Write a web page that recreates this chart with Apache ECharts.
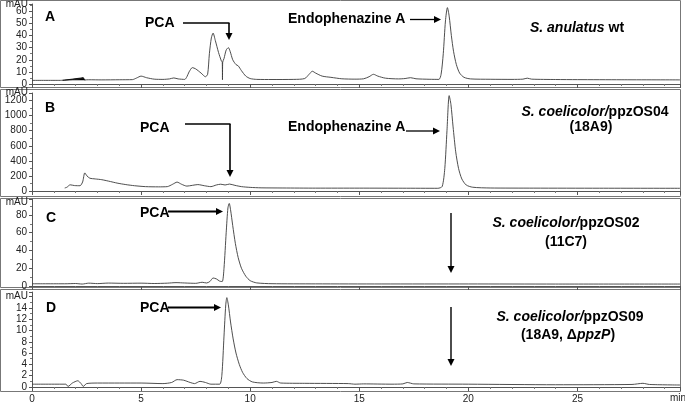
<!DOCTYPE html>
<html><head><meta charset="utf-8">
<script src="https://cdn.jsdelivr.net/npm/echarts@6/dist/echarts.min.js"></script>
<style>html,body{margin:0;padding:0;background:#fff}#c{width:685px;height:405px}</style>
</head><body><div id="c"></div>
<script>
// retention time (min), absorbance (mAU)
const traceA = [[0,3],[1.3,3],[1.4,3.1],[1.8,3.6],[2.2,4.4],[2.35,5],[2.42,3.4],[2.6,3.5],[3.2,3.4],[4.0,3.5],[4.6,3.6],[4.8,5],[5.0,6.5],[5.25,5.2],[5.6,4],[6.0,3.8],[6.3,4.2],[6.5,5],[6.7,4.2],[7.0,3.8],[7.1,6],[7.2,10],[7.35,13.5],[7.5,12.5],[7.75,9],[7.95,6],[8.05,8],[8.13,25],[8.22,38],[8.3,42],[8.4,36],[8.55,26],[8.68,19],[8.72,18],[8.73,3.5],[8.74,18],[8.8,21],[8.9,28],[9.0,30],[9.08,27],[9.2,20],[9.35,16],[9.45,15],[9.6,11],[9.8,6.5],[10.0,4.5],[10.3,3.8],[11.0,3.7],[12.0,3.8],[12.5,4.5],[12.7,8],[12.85,10.5],[13.0,9],[13.3,6.5],[13.7,5.5],[14.2,4.3],[14.8,4],[15.2,4.3],[15.45,6],[15.65,8],[15.85,6.5],[16.2,4.8],[16.8,4.2],[17.1,4.5],[17.35,5.2],[17.6,4.3],[18.2,3.9],[18.65,3.8],[18.75,8],[18.85,25],[18.95,52],[19.04,63],[19.12,56],[19.22,40],[19.32,27],[19.45,16],[19.6,9],[19.8,5.5],[20.1,4.2],[21,3.9],[22,3.8],[22.5,4],[22.7,4.8],[22.9,4],[24,3.7],[25,3.6],[27,3.5],[29.7,3.4]];
const wedgeA = [[1.4,3],[2.35,5.2],[2.42,3]];
const traceB = [[1.5,40],[1.6,50],[1.75,82],[1.95,72],[2.2,70],[2.32,120],[2.42,240],[2.52,200],[2.65,170],[2.9,160],[3.2,150],[3.6,125],[3.9,105],[4.3,85],[4.7,70],[5.2,58],[5.8,55],[6.2,58],[6.45,90],[6.65,118],[6.85,90],[7.1,65],[7.35,75],[7.6,85],[7.9,70],[8.2,58],[8.45,80],[8.65,90],[8.85,80],[9.05,92],[9.3,75],[9.6,58],[10.0,48],[10.5,42],[11.5,40],[13,38],[15,38],[17,37],[18.6,36],[18.8,60],[18.92,300],[19.02,800],[19.12,1265],[19.2,1150],[19.3,850],[19.42,520],[19.55,300],[19.7,160],[19.9,80],[20.2,50],[21,40],[23,38],[26,37],[29.7,36]];
const traceC = [[0,2.5],[1.5,2.5],[2.0,2.8],[2.3,2.2],[2.6,3.2],[3.0,2.7],[3.5,3.3],[4.2,3],[5.0,3.2],[5.6,2.8],[6.2,3.2],[6.6,3.8],[7.0,3.4],[7.5,3],[7.8,4.2],[8.0,3.4],[8.15,5],[8.3,9],[8.45,8],[8.6,5.5],[8.72,5],[8.8,20],[8.9,60],[8.98,88],[9.04,93],[9.1,86],[9.2,68],[9.32,48],[9.45,32],[9.6,20],[9.8,11],[10.0,6],[10.3,3.5],[11,2.6],[13,2.4],[16,2.3],[20,2.3],[24,2.2],[29.7,2.2]];
const traceD = [[0,0.5],[1.55,0.5],[1.65,0.1],[1.85,0.7],[2.1,1.1],[2.25,0.6],[2.35,0.1],[2.5,0.6],[3.0,0.7],[4.0,0.7],[5.0,0.7],[6.0,0.6],[6.4,0.8],[6.65,1.3],[6.95,1.2],[7.25,0.8],[7.45,0.6],[7.7,1.0],[7.95,0.8],[8.2,0.5],[8.6,0.5],[8.7,2],[8.8,9],[8.88,14.5],[8.93,15.8],[9.0,14.5],[9.1,11.5],[9.22,8.5],[9.35,6],[9.5,4],[9.65,2.6],[9.85,1.5],[10.1,0.9],[10.6,0.7],[11.0,0.8],[11.2,1.0],[11.4,0.7],[12.5,0.65],[14.5,0.6],[14.8,0.5],[15.2,0.55],[16.5,0.5],[17.0,0.55],[17.2,0.8],[17.5,0.55],[20,0.5],[24,0.4],[27.5,0.45],[28.0,0.65],[28.3,0.45],[29.7,0.35]];
const xTicks = [0, 5, 10, 15, 20, 25];
const yMaxes = [66, 1300, 98, 16.8];
const yIntervals = [10, 200, 20, 2];
const yLabelTops = [60, 1200, 80, 14];
const panelLetters = ['A', 'B', 'C', 'D'];

const FONT = '"Liberation Sans", Arial, sans-serif';
const grids = [
  {left: 32, right: 5, top: 4, height: 80},
  {left: 32, right: 5, top: 93, height: 98},
  {left: 32, right: 5, top: 199, height: 87},
  {left: 32, right: 5, top: 292, height: 95}
];
const axisCol = '#555';
const xAxes = grids.map((g, i) => ({
  gridIndex: i, type: 'value', min: 0, max: 29.7, interval: 5,
  axisLine: {show: true, onZero: false, lineStyle: {color: axisCol, width: 1}},
  axisTick: {show: true, length: 4, lineStyle: {color: axisCol}},
  minorTick: {show: true, splitNumber: 5, length: 2, lineStyle: {color: '#777'}},
  axisLabel: {show: i === 3, showMaxLabel: false, fontSize: 10, color: '#222', margin: 7, fontFamily: FONT,
    formatter: v => xTicks.includes(v) ? String(v) : ''},
  splitLine: {show: false}
}));
const yAxes = grids.map((g, i) => ({
  gridIndex: i, type: 'value', min: 0, max: yMaxes[i], interval: yIntervals[i],
  axisLine: {show: true, lineStyle: {color: axisCol, width: 1}},
  axisTick: {show: true, length: 3, lineStyle: {color: axisCol}},
  minorTick: {show: true, splitNumber: 2, length: 2, lineStyle: {color: '#777'}},
  axisLabel: {fontSize: 10, color: '#222', margin: 5, fontFamily: FONT, showMaxLabel: false,
    formatter: v => v <= yLabelTops[i] ? String(v) : ''},
  splitLine: {show: false}
}));
const traces = [traceA, traceB, traceC, traceD];
const series = traces.map((d, i) => ({
  type: 'line', xAxisIndex: i, yAxisIndex: i, data: d, showSymbol: false, smooth: 0.25,
  lineStyle: {color: '#3a3a3a', width: 0.9}, silent: true, animation: false, clip: true
}));
series.push({type: 'line', xAxisIndex: 0, yAxisIndex: 0, data: wedgeA, showSymbol: false,
  lineStyle: {color: '#000', width: 0.8}, areaStyle: {color: '#000', origin: 3, opacity: 1}, animation: false});

// annotation helpers
const graphics = [];
function txt(text, x, y, opts) {
  graphics.push({type: 'text', silent: true, style: Object.assign({
    text, x, y, font: 'bold 14px ' + FONT, fill: '#000',
    align: 'left', verticalAlign: 'middle', textAlign: 'left', textVerticalAlign: 'middle'
  }, opts || {})});
}
function rich(text, x, y, align) {
  graphics.push({type: 'text', silent: true, style: {
    text, x, y, align: align || 'center', verticalAlign: 'middle', textAlign: align || 'center', textVerticalAlign: 'middle',
    font: 'bold 14px ' + FONT, fill: '#000',
    rich: {
      i: {fontStyle: 'italic', fontWeight: 'bold', fontSize: 14, fontFamily: FONT, fill: '#000'},
      b: {fontWeight: 'bold', fontSize: 14, fontFamily: FONT, fill: '#000'}
    }
  }});
}
function line(x1, y1, x2, y2, w) {
  graphics.push({type: 'line', silent: true, shape: {x1, y1, x2, y2}, style: {stroke: '#000', lineWidth: w || 1.6}});
}
function head(x, y, dir) {
  const L = 7, H = 3.5;
  let pts;
  if (dir === 'right') pts = [[x, y], [x - L, y - H], [x - L, y + H]];
  else pts = [[x, y], [x - H, y - L], [x + H, y - L]];
  graphics.push({type: 'polygon', silent: true, shape: {points: pts}, style: {fill: '#000'}});
}
function rect(x, y, w, h) {
  graphics.push({type: 'rect', silent: true, shape: {x, y, width: w, height: h}, style: {fill: 'none', stroke: '#777', lineWidth: 1}});
}
// panel frames
rect(0.5, 0.5, 680, 87);
rect(0.5, 89.5, 680, 107);
rect(0.5, 198.5, 680, 89);
rect(0.5, 289.5, 680, 102);
// mAU labels
[[4], [92], [202], [296]].forEach(([y]) => txt('mAU', 28, y, {font: '10px ' + FONT, fill: '#222', align: 'right', textAlign: 'right'}));
// panel letters
txt(panelLetters[0], 45, 17); txt(panelLetters[1], 45, 108); txt(panelLetters[2], 46, 218); txt(panelLetters[3], 46, 308);
// Panel A
txt('PCA', 145, 23);
line(183, 23, 229.5, 23); line(229, 23, 229, 33); head(229, 40, 'down');
txt('Endophenazine A', 288, 19);
line(410, 19.5, 434, 19.5, 1.3); head(441, 19.5, 'right');
rich('{i|S. anulatus} {b|wt}', 577, 28);
// Panel B
txt('PCA', 140, 128);
line(185, 124, 230.5, 124); line(230, 124, 230, 170); head(230, 177, 'down');
txt('Endophenazine A', 288, 127);
line(406, 131, 433, 131, 1.3); head(440, 131, 'right');
rich('{i|S. coelicolor/}{b|ppzOS04}', 595, 112);
rich('{b|(18A9)}', 591, 127);
// Panel C
txt('PCA', 140, 213);
line(168, 211.5, 216, 211.5, 1.8); head(223, 211.5, 'right');
line(451, 213, 451, 266, 1.4); head(451, 273, 'down');
rich('{i|S. coelicolor/}{b|ppzOS02}', 566, 223);
rich('{b|(11C7)}', 566, 242);
// Panel D
txt('PCA', 140, 308);
line(168, 307.5, 214, 307.5, 1.8); head(221, 307.5, 'right');
line(451, 307, 451, 359, 1.4); head(451, 366, 'down');
rich('{i|S. coelicolor/}{b|ppzOS09}', 570, 317);
rich('{b|(18A9, Δ}{i|ppzP}{b|)}', 568, 335);
// x unit
txt('min', 678, 398, {font: '10px ' + FONT, fill: '#222', align: 'center', textAlign: 'center'});

const chart = echarts.init(document.getElementById('c'), null, {renderer: 'canvas'});
chart.setOption({
  animation: false,
  grid: grids, xAxis: xAxes, yAxis: yAxes, series, graphic: graphics
});
</script></body></html>
